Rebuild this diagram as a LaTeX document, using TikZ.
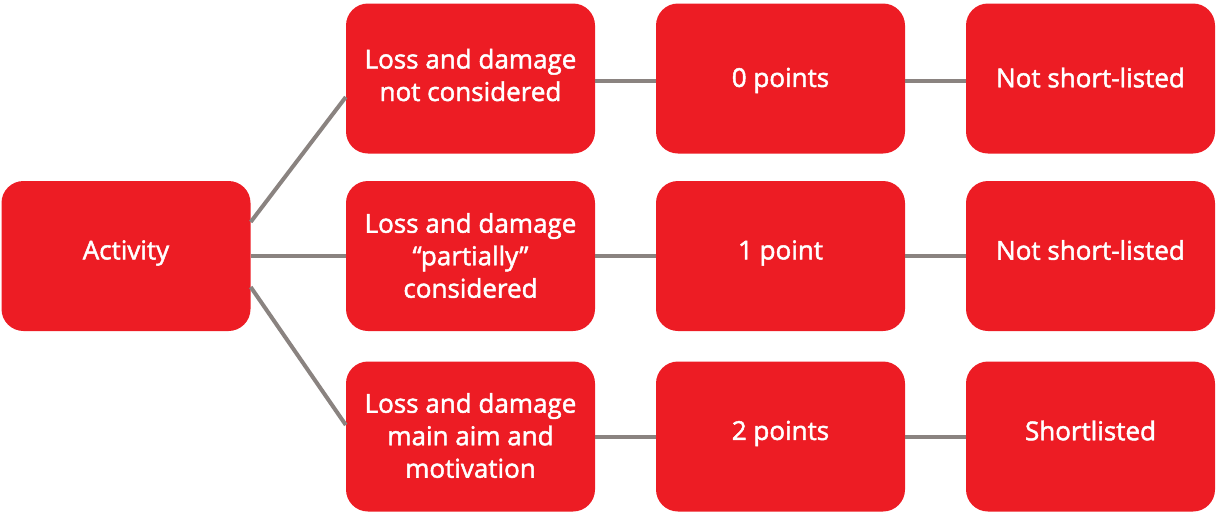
\documentclass[tikz,border=0pt]{standalone}
\usepackage{fontspec}
\setmainfont{Open Sans}[FakeBold=1.8]
\definecolor{boxred}{HTML}{ED1C24}
\definecolor{linegray}{HTML}{8A8380}
\newcommand\mkbox[5]{%
  \node[box] (#1) at (#2,#3) {};
  \node[txt] (#1t) at ([yshift=#4]#1.center) {#5};}
\begin{document}
\begin{tikzpicture}[x=1pt,y=-1pt,
  box/.style={draw=none,fill=boxred,rounded corners=22pt,minimum width=249pt,minimum height=150pt,inner sep=0pt},
  txt/.style={text=white,align=center,inner sep=0pt,font=\fontsize{26}{32.5}\selectfont},
  conn/.style={draw=linegray,line width=4pt}]
\useasboundingbox (0,0) rectangle (1216,512);
\mkbox{act}{126}{256}{3pt}{Activity}
\mkbox{a2}{470.5}{78.5}{3.5pt}{Loss and damage\\not considered}
\mkbox{b2}{470.5}{256}{0.5pt}{Loss and damage\\“partially”\\considered}
\mkbox{c2}{470.5}{436.5}{1pt}{Loss and damage\\main aim and\\motivation}
\mkbox{a3}{780.5}{78.5}{-2pt}{0 points}
\mkbox{b3}{780.5}{256}{3pt}{1 point}
\mkbox{c3}{780.5}{436.5}{3pt}{2 points}
\mkbox{a4}{1090.5}{78.5}{1pt}{Not short-listed}
\mkbox{b4}{1090.5}{256}{6pt}{Not short-listed}
\mkbox{c4}{1090.5}{436.5}{6pt}{Shortlisted}
\draw[conn] ([yshift=34pt]act.east) -- ([yshift=-18.5pt]a2.west);
\draw[conn] (act.east) -- (b2.west);
\draw[conn] ([yshift=-31pt]act.east) -- ([yshift=11.5pt]c2.west);
\draw[conn] ([yshift=-2.5pt]a2.east) -- ([yshift=-2.5pt]a3.west);
\draw[conn] (b2.east) -- (b3.west);
\draw[conn] (c2.east) -- (c3.west);
\draw[conn] ([yshift=-2.5pt]a3.east) -- ([yshift=-2.5pt]a4.west);
\draw[conn] (b3.east) -- (b4.west);
\draw[conn] (c3.east) -- (c4.west);
\end{tikzpicture}
\end{document}
